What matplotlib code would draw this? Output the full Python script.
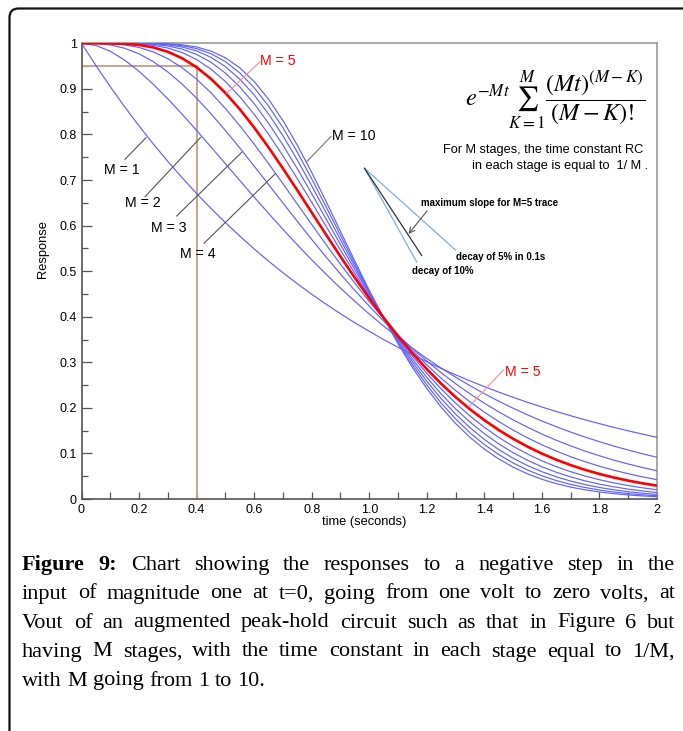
import matplotlib
matplotlib.use("Agg")
import matplotlib.pyplot as plt
from matplotlib.patches import FancyBboxPatch
from matplotlib.ticker import FixedLocator

# ---------------- data ----------------
t = [0.00, 0.05, 0.10, 0.15, 0.20, 0.25, 0.30, 0.35, 0.40, 0.45, 0.50,
     0.55, 0.60, 0.65, 0.70, 0.75, 0.80, 0.85, 0.90, 0.95, 1.00,
     1.05, 1.10, 1.15, 1.20, 1.25, 1.30, 1.35, 1.40, 1.45, 1.50,
     1.55, 1.60, 1.65, 1.70, 1.75, 1.80, 1.85, 1.90, 1.95, 2.00]

resp_m1 = [1.0000, 0.9512, 0.9048, 0.8607, 0.8187, 0.7788, 0.7408, 0.7047, 0.6703, 0.6376, 0.6065,
           0.5769, 0.5488, 0.5220, 0.4966, 0.4724, 0.4493, 0.4274, 0.4066, 0.3867, 0.3679,
           0.3499, 0.3329, 0.3166, 0.3012, 0.2865, 0.2725, 0.2592, 0.2466, 0.2346, 0.2231,
           0.2122, 0.2019, 0.1920, 0.1827, 0.1738, 0.1653, 0.1572, 0.1496, 0.1423, 0.1353]
resp_m2 = [1.0000, 0.9953, 0.9825, 0.9631, 0.9384, 0.9098, 0.8781, 0.8442, 0.8088, 0.7725, 0.7358,
           0.6990, 0.6626, 0.6268, 0.5918, 0.5578, 0.5249, 0.4932, 0.4628, 0.4337, 0.4060,
           0.3796, 0.3546, 0.3309, 0.3084, 0.2873, 0.2674, 0.2487, 0.2311, 0.2146, 0.1991,
           0.1847, 0.1712, 0.1586, 0.1468, 0.1359, 0.1257, 0.1162, 0.1074, 0.0992, 0.0916]
resp_m3 = [1.0000, 0.9995, 0.9964, 0.9891, 0.9769, 0.9595, 0.9371, 0.9103, 0.8795, 0.8454, 0.8088,
           0.7704, 0.7306, 0.6902, 0.6496, 0.6093, 0.5697, 0.5311, 0.4936, 0.4576, 0.4232,
           0.3904, 0.3594, 0.3302, 0.3028, 0.2771, 0.2531, 0.2309, 0.2102, 0.1912, 0.1736,
           0.1574, 0.1425, 0.1289, 0.1165, 0.1051, 0.0948, 0.0853, 0.0768, 0.0690, 0.0620]
resp_m4 = [1.0000, 0.9999, 0.9992, 0.9966, 0.9909, 0.9810, 0.9662, 0.9463, 0.9212, 0.8913, 0.8571,
           0.8194, 0.7787, 0.7360, 0.6919, 0.6472, 0.6025, 0.5584, 0.5152, 0.4735, 0.4335,
           0.3954, 0.3594, 0.3257, 0.2942, 0.2650, 0.2381, 0.2133, 0.1906, 0.1700, 0.1512,
           0.1342, 0.1190, 0.1052, 0.0928, 0.0818, 0.0719, 0.0632, 0.0554, 0.0485, 0.0424]
resp_m5 = [1.0000, 1.0000, 0.9998, 0.9989, 0.9963, 0.9909, 0.9814, 0.9671, 0.9474, 0.9220, 0.8912,
           0.8554, 0.8153, 0.7717, 0.7254, 0.6776, 0.6288, 0.5801, 0.5321, 0.4854, 0.4405,
           0.3978, 0.3575, 0.3199, 0.2851, 0.2530, 0.2237, 0.1970, 0.1730, 0.1514, 0.1321,
           0.1149, 0.0996, 0.0862, 0.0744, 0.0640, 0.0550, 0.0471, 0.0403, 0.0344, 0.0293]
resp_m6 = [1.0000, 1.0000, 1.0000, 0.9997, 0.9985, 0.9955, 0.9896, 0.9796, 0.9643, 0.9433, 0.9161,
           0.8829, 0.8441, 0.8006, 0.7531, 0.7029, 0.6510, 0.5984, 0.5461, 0.4950, 0.4457,
           0.3988, 0.3547, 0.3137, 0.2759, 0.2414, 0.2103, 0.1823, 0.1573, 0.1352, 0.1157,
           0.0987, 0.0838, 0.0710, 0.0599, 0.0504, 0.0423, 0.0353, 0.0295, 0.0245, 0.0203]
resp_m7 = [1.0000, 1.0000, 1.0000, 0.9999, 0.9994, 0.9978, 0.9941, 0.9872, 0.9756, 0.9584, 0.9347,
           0.9044, 0.8675, 0.8246, 0.7767, 0.7248, 0.6703, 0.6143, 0.5582, 0.5031, 0.4497,
           0.3990, 0.3514, 0.3073, 0.2670, 0.2305, 0.1978, 0.1688, 0.1433, 0.1210, 0.1016,
           0.0850, 0.0708, 0.0587, 0.0484, 0.0398, 0.0326, 0.0267, 0.0217, 0.0176, 0.0142]
resp_m8 = [1.0000, 1.0000, 1.0000, 1.0000, 0.9997, 0.9989, 0.9967, 0.9919, 0.9832, 0.9692, 0.9489,
           0.9214, 0.8867, 0.8449, 0.7970, 0.7440, 0.6873, 0.6285, 0.5689, 0.5100, 0.4530,
           0.3987, 0.3478, 0.3010, 0.2584, 0.2202, 0.1863, 0.1566, 0.1307, 0.1085, 0.0895,
           0.0734, 0.0599, 0.0487, 0.0393, 0.0316, 0.0253, 0.0202, 0.0160, 0.0127, 0.0100]
resp_m9 = [1.0000, 1.0000, 1.0000, 1.0000, 0.9999, 0.9994, 0.9981, 0.9948, 0.9883, 0.9771, 0.9597,
           0.9351, 0.9027, 0.8623, 0.8148, 0.7611, 0.7027, 0.6413, 0.5786, 0.5162, 0.4557,
           0.3980, 0.3442, 0.2948, 0.2502, 0.2105, 0.1757, 0.1454, 0.1195, 0.0975, 0.0790,
           0.0636, 0.0509, 0.0405, 0.0320, 0.0252, 0.0197, 0.0153, 0.0119, 0.0092, 0.0071]
resp_m10 = [1.0000, 1.0000, 1.0000, 1.0000, 1.0000, 0.9997, 0.9989, 0.9967, 0.9919, 0.9829, 0.9682,
            0.9462, 0.9161, 0.8774, 0.8305, 0.7764, 0.7166, 0.6530, 0.5874, 0.5218, 0.4579,
            0.3971, 0.3405, 0.2888, 0.2424, 0.2014, 0.1658, 0.1353, 0.1094, 0.0878, 0.0699,
            0.0552, 0.0433, 0.0337, 0.0261, 0.0201, 0.0154, 0.0117, 0.0089, 0.0067, 0.0050]

curves = {1: resp_m1, 2: resp_m2, 3: resp_m3, 4: resp_m4, 5: resp_m5,
          6: resp_m6, 7: resp_m7, 8: resp_m8, 9: resp_m9, 10: resp_m10}
highlight_m = 5

marker_t = 0.4       # time of the 5 % decay mark on the M=5 trace
marker_level = 0.95

x_ticks = [0.0, 0.2, 0.4, 0.6, 0.8, 1.0, 1.2, 1.4, 1.6, 1.8, 2.0]
x_ticklabels = ["0", "0.2", "0.4", "0.6", "0.8", "1.0", "1.2", "1.4", "1.6", "1.8", "2"]
x_minor = [0.1, 0.3, 0.5, 0.7, 0.9, 1.1, 1.3, 1.5, 1.7, 1.9]
y_ticks = [0.0, 0.1, 0.2, 0.3, 0.4, 0.5, 0.6, 0.7, 0.8, 0.9, 1.0]
y_ticklabels = ["0", "0.1", "0.2", "0.3", "0.4", "0.5", "0.6", "0.7", "0.8", "0.9", "1"]
y_minor = [0.05, 0.15, 0.25, 0.35, 0.45, 0.55, 0.65, 0.75, 0.85, 0.95]

caption_lines = [
    [("Figure", "bold"), ("9:", "bold")] + [(w, "normal") for w in
        "Chart showing the responses to a negative step in the".split()],
    [(w, "normal") for w in "input of magnitude one at t=0, going from one volt to zero volts, at".split()],
    [(w, "normal") for w in "Vout of an augmented peak-hold circuit such as that in Figure 6 but".split()],
    [(w, "normal") for w in "having M stages, with the time constant in each stage equal to 1/M,".split()],
    [(w, "normal") for w in "with M going from 1 to 10.".split()],
]

# ---------------- figure ----------------
plt.rcParams["font.family"] = ["Liberation Sans", "DejaVu Sans"]
plt.rcParams["mathtext.fontset"] = "stix"

W, H = 683, 731
fig = plt.figure(figsize=(W / 100, H / 100), dpi=100)
fig.patch.set_facecolor("white")

ov = fig.add_axes([0, 0, 1, 1])
ov.set_xlim(0, W)
ov.set_ylim(H, 0)
ov.axis("off")
ov.add_patch(FancyBboxPatch((9.5, 8.5), 900, 900,
                            boxstyle="round,pad=0,rounding_size=9",
                            lw=1.6, ec="#111111", fc="none"))


def fx(x):
    return x / W


def fy(y):
    return 1 - y / H


# plot area in pixels: x 81.5..657, y 43.3..499
ax = fig.add_axes([fx(81.5), fy(499), (657 - 81.5) / W, (499 - 43.3) / H])
ax.set_facecolor("none")
ax.set_xlim(0, 2)
ax.set_ylim(0, 1)

for m, vals in curves.items():
    if m == highlight_m:
        continue
    ax.plot(t, vals, color="#6161ff", lw=0.85, zorder=3)
ax.plot(t, curves[highlight_m], color="#ff0000", lw=1.9, zorder=4)

brown = "#c8a68c"
ax.plot([0, marker_t], [marker_level, marker_level], color=brown, lw=1.4, zorder=2)
ax.plot([marker_t, marker_t], [0, marker_level], color=brown, lw=1.4, zorder=2)

for side in ("left", "bottom"):
    ax.spines[side].set_color("#555555")
    ax.spines[side].set_linewidth(1.2)
for side in ("top", "right"):
    ax.spines[side].set_color("#999999")
    ax.spines[side].set_linewidth(1.2)

ax.set_xticks(x_ticks)
ax.set_xticklabels(x_ticklabels)
ax.xaxis.set_minor_locator(FixedLocator(x_minor))
ax.set_yticks(y_ticks)
ax.set_yticklabels(y_ticklabels)
ax.yaxis.set_minor_locator(FixedLocator(y_minor))
ax.tick_params(axis="both", which="both", direction="in", color="#555555", width=0.9)
ax.tick_params(axis="y", which="major", length=7.5, pad=3.5, labelsize=9)
ax.tick_params(axis="y", which="minor", length=4)
ax.tick_params(axis="x", which="major", length=5, pad=3.5, labelsize=9)
ax.tick_params(axis="x", which="minor", length=5)

fig.text(fx(364), fy(522.5), "time (seconds)", ha="center", va="center", fontsize=9.3)
fig.text(fx(43), fy(249), "Response", ha="center", va="center", rotation=90, fontsize=9.3)


def p2d(x, y):
    """pixel -> data coordinates of the plot area"""
    return ((x - 81.5) / 287.75, (499 - y) / 455.7)


# curve labels with leader lines
labels = [
    ("M = 1", (121.5, 170.3), (125, 159.3), (146, 137.7), "#000000", "#555555"),
    ("M = 2", (143.2, 203), (145, 196.7), (200.7, 137.3), "#000000", "#555555"),
    ("M = 3", (169.2, 228), (176.7, 216), (241.7, 152.3), "#000000", "#555555"),
    ("M = 4", (197.5, 253.5), (204, 243.3), (275, 174), "#000000", "#555555"),
    ("M = 10", (354, 136), (306.7, 161.7), (331, 136.5), "#000000", "#777777"),
    ("M = 5", (278.3, 61.3), (226.7, 93.3), (260, 61.7), "#ff0000", "#ff8c8c"),
    ("M = 5", (522.5, 372.5), (469, 406.7), (503.3, 370), "#ff0000", "#ff8c8c"),
]
for txt, tp, a, b, tc, lc in labels:
    a_d, b_d = p2d(*a), p2d(*b)
    ax.plot([a_d[0], b_d[0]], [a_d[1], b_d[1]], color=lc, lw=0.8, zorder=5)
    ax.text(*p2d(*tp), txt, color=tc, fontsize=10.2, ha="center", va="center", zorder=6)

# slope construction
s0 = p2d(364.5, 168.3)
for end, col, lw in [((416.7, 262), "#7fb0dc", 0.9), ((455.5, 250), "#7fb0dc", 0.9),
                     ((421.7, 255.5), "#333333", 0.9)]:
    e = p2d(*end)
    ax.plot([s0[0], e[0]], [s0[1], e[1]], color=col, lw=lw, zorder=5)
ax.annotate("", xy=p2d(408.5, 234), xytext=p2d(427, 211),
            arrowprops=dict(arrowstyle="->", color="#555555", lw=0.8,
                            shrinkA=0, shrinkB=0), zorder=6)
ax.text(*p2d(421, 202.5), "maximum slope for M=5 trace", fontsize=7, fontweight="bold",
        ha="left", va="center", zorder=6)
ax.text(*p2d(455.7, 257.5), "decay of 5% in 0.1s", fontsize=7, fontweight="bold",
        ha="left", va="center", zorder=6)
ax.text(*p2d(412, 271.5), "decay of 10%", fontsize=7, fontweight="bold",
        ha="left", va="center", zorder=6)

# formula and notes
fig.text(fx(555), fy(100), r"$e^{-Mt}\sum_{K=1}^{M}\dfrac{(Mt)^{(M-K)}}{(M-K)!}$",
         ha="center", va="center", fontsize=17.5)
fig.text(fx(643), fy(150), "For M stages, the time constant RC", ha="right", va="center",
         fontsize=9.2)
fig.text(fx(648), fy(165.5), "in each stage is equal to  1/ M .", ha="right", va="center",
         fontsize=9.2)

# caption (justified)
renderer = fig.canvas.get_renderer()
cap_font = dict(family="Liberation Serif", size=16)
x0, x1 = 22, 675
baselines = [570, 598.5, 627.5, 656.5, 685.5]
sp = ov.text(0, 0, "a a", **cap_font)
sp2 = ov.text(0, 0, "aa", **cap_font)
space_w = sp.get_window_extent(renderer).width - sp2.get_window_extent(renderer).width
sp.remove()
sp2.remove()
for i, (line, yb) in enumerate(zip(caption_lines, baselines)):
    texts = [ov.text(0, yb, w, fontweight=wt, va="baseline", ha="left", **cap_font)
             for w, wt in line]
    widths = [tx.get_window_extent(renderer).width for tx in texts]
    if i < len(caption_lines) - 1:
        gap = (x1 - x0 - sum(widths)) / (len(texts) - 1)
    else:
        gap = space_w
    x = x0
    for tx, w in zip(texts, widths):
        tx.set_x(x)
        x += w + gap

fig.savefig("out.png", dpi=100, facecolor="white")
